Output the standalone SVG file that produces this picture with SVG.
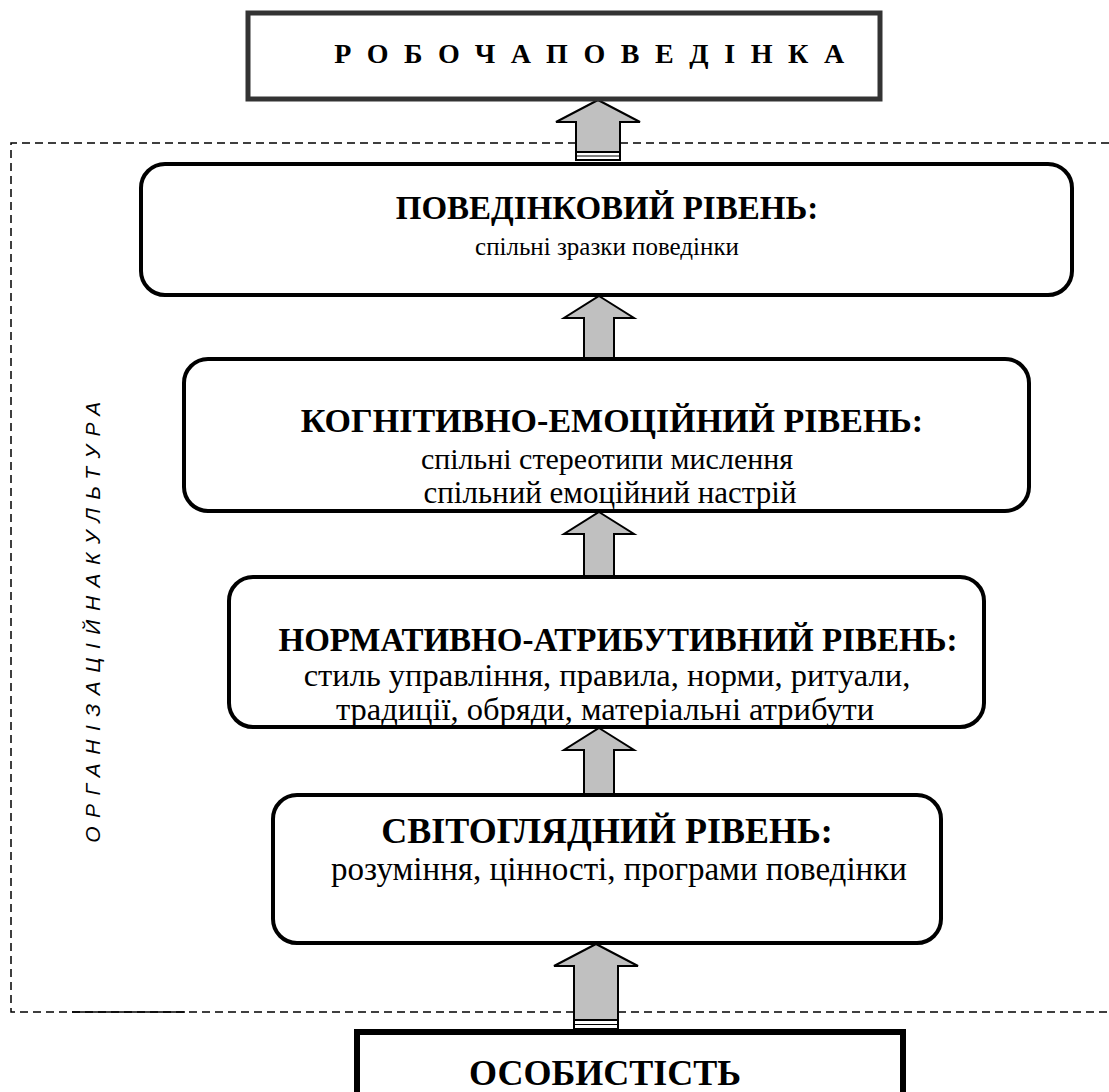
<svg xmlns="http://www.w3.org/2000/svg" width="1109" height="1092" viewBox="0 0 1109 1092">
  <style>
    .level { fill: #ffffff; stroke: #000000; stroke-width: 4; }
    .title { font-family: "Liberation Serif", "Times New Roman", serif; font-weight: bold; font-size: 33px; text-anchor: middle; fill: #000; }
    .body { font-family: "Liberation Serif", "Times New Roman", serif; font-size: 31px; text-anchor: middle; fill: #000; }
    .arrow { fill: #c0c0c0; stroke: #000000; stroke-width: 2; stroke-linejoin: miter; }
    .stripe { fill: #ffffff; stroke: #000000; stroke-width: 2; }
    .frame { fill: none; stroke: #000000; stroke-width: 1.5; stroke-dasharray: 8 5; }
    .side { font-family: "Liberation Sans", Arial, sans-serif; font-style: italic; font-size: 21px; letter-spacing: 8.5px; text-anchor: middle; fill: #000; }
  </style>

  <!-- organisational culture frame -->
  <g id="culture-frame">
    <path class="frame" d="M1109,143 H11 V1012 H1109"/>
    <line x1="72" y1="1012" x2="185" y2="1012" stroke="#000" stroke-width="1.5"/>
    <text class="side" transform="translate(100,618) rotate(-90)">ОРГАНІЗАЦІЙНАКУЛЬТУРА</text>
  </g>

  <!-- connectors: upward block arrows -->
  <g id="connectors">
    <polygon class="arrow" points="598,100 640,122 620,122 620,160 576,160 576,122 556,122"/>
    <rect class="stripe" x="576" y="152" width="44" height="8"/>
    <line x1="576" y1="156" x2="620" y2="156" stroke="#000" stroke-width="1"/>

    <polygon class="arrow" points="599,296 634,318 614,318 614,358 584,358 584,318 564,318"/>
    <polygon class="arrow" points="599,512 634,534 614,534 614,576 584,576 584,534 564,534"/>
    <polygon class="arrow" points="599,728 634,750 614,750 614,794 584,794 584,750 564,750"/>

    <polygon class="arrow" points="596,944 638,966 618,966 618,1030 574,1030 574,966 554,966"/>
    <rect class="stripe" x="574" y="1020" width="44" height="9"/>
    <line x1="574" y1="1024.5" x2="618" y2="1024.5" stroke="#000" stroke-width="1"/>
  </g>

  <g id="work-behaviour">
    <rect x="248" y="13" width="632" height="86" fill="#fff" stroke="#333" stroke-width="5"/>
    <text x="597" y="63" font-family="Liberation Serif, Times New Roman, serif" font-weight="bold" font-size="28" letter-spacing="15.6" text-anchor="middle">РОБОЧАПОВЕДІНКА</text>
  </g>

  <g id="behavioural-level">
    <rect class="level" x="141" y="164" width="931" height="131" rx="24"/>
    <text class="title" x="607" y="219">ПОВЕДІНКОВИЙ РІВЕНЬ:</text>
    <text class="body" x="607" y="255" style="font-size:25px">спільні зразки поведінки</text>
  </g>

  <g id="cognitive-level">
    <rect class="level" x="184" y="359" width="845" height="152" rx="24"/>
    <text class="title" x="612" y="432" style="font-size:34px">КОГНІТИВНО-ЕМОЦІЙНИЙ РІВЕНЬ:</text>
    <text class="body" x="607" y="469" style="font-size:30px">спільні стереотипи мислення</text>
    <text class="body" x="610" y="503">спільний емоційний настрій</text>
  </g>

  <g id="normative-level">
    <rect class="level" x="229" y="577" width="755" height="150" rx="24"/>
    <text class="title" x="618" y="651">НОРМАТИВНО-АТРИБУТИВНИЙ РІВЕНЬ:</text>
    <text class="body" x="607" y="686" style="font-size:32.5px">стиль управління, правила, норми, ритуали,</text>
    <text class="body" x="605" y="720" style="font-size:32.5px">традиції, обряди, матеріальні атрибути</text>
  </g>

  <g id="worldview-level">
    <rect class="level" x="273" y="795" width="668" height="148" rx="24"/>
    <text class="title" x="607" y="843" style="font-size:36px">СВІТОГЛЯДНИЙ РІВЕНЬ:</text>
    <text class="body" x="619" y="880" style="font-size:33px">розуміння, цінності, програми поведінки</text>
  </g>

  <g id="personality">
    <rect x="357" y="1032" width="546" height="80" fill="#fff" stroke="#000" stroke-width="6"/>
    <text class="title" x="605" y="1085" style="font-size:36px">ОСОБИСТІСТЬ</text>
  </g>
</svg>
